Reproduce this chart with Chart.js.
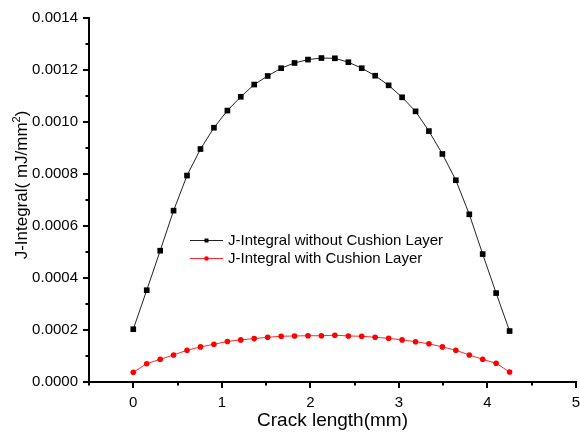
<!DOCTYPE html>
<html>
<head>
<meta charset="utf-8">
<script src="https://cdn.jsdelivr.net/npm/chart.js@4.4.1/dist/chart.umd.min.js"></script>
<style>
  html, body { margin: 0; padding: 0; background: #fff; }
  #wrap { width: 580px; height: 435px; }
</style>
</head>
<body>
<div id="wrap"><canvas id="c" width="580" height="435"></canvas></div>
<script>
// Crack length along the interface (mm)
const crackLength = [0, 0.152, 0.304, 0.455, 0.607, 0.759, 0.911, 1.063, 1.214, 1.366,
  1.518, 1.670, 1.821, 1.973, 2.125, 2.277, 2.429, 2.580, 2.732, 2.884,
  3.036, 3.188, 3.339, 3.491, 3.643, 3.795, 3.946, 4.098, 4.250];

// J-Integral (mJ/mm^2) without the cushion layer
const jWithoutCushion = [0.000203, 0.000353, 0.000505, 0.000659, 0.000794, 0.000896, 0.000978, 0.001044, 0.001097, 0.001144,
  0.001177, 0.001207, 0.001227, 0.001240, 0.001246, 0.001245, 0.001230, 0.001207, 0.001178, 0.001141,
  0.001095, 0.001041, 0.000965, 0.000877, 0.000776, 0.000645, 0.000492, 0.000342, 0.000196];

// J-Integral (mJ/mm^2) with the cushion layer
const jWithCushion = [0.0000373, 0.0000704, 0.0000873, 0.000104, 0.000122, 0.000135, 0.000145, 0.000156, 0.000162, 0.000167,
  0.000172, 0.000176, 0.000177, 0.000178, 0.000178, 0.000180, 0.000177, 0.000176, 0.000172, 0.000168,
  0.000162, 0.000155, 0.000147, 0.000135, 0.000122, 0.000104, 0.0000873, 0.0000719, 0.0000385];

// Labelled tick positions
const xTickValues = [0, 1, 2, 3, 4, 5];
const yTickValues = [0, 0.0002, 0.0004, 0.0006, 0.0008, 0.0010, 0.0012, 0.0014];

const seriesNames = ['J-Integral without Cushion Layer', 'J-Integral with Cushion Layer'];
const xTitle = 'Crack length(mm)';
const yTitleParts = ['J-Integral( mJ/mm', '2', ')'];

const FONT = '"Liberation Sans", Arial, sans-serif';

const toPoints = (ys) => ys.map((y, i) => ({ x: crackLength[i], y }));

// Short minor ticks halfway between the labelled ones
const minorTicks = {
  id: 'minorTicks',
  afterDraw(chart) {
    const { ctx, scales: { x, y } } = chart;
    ctx.save();
    ctx.strokeStyle = '#000';
    ctx.lineWidth = 2;
    ctx.beginPath();
    for (let v = -0.5; v <= 5; v += 1) {
      const px = Math.round(x.getPixelForValue(v));
      ctx.moveTo(px, x.top);
      ctx.lineTo(px, x.top + 3.5);
    }
    for (let k = 1; k < 14; k += 2) {
      const py = Math.round(y.getPixelForValue(k * 0.0001));
      ctx.moveTo(y.right, py);
      ctx.lineTo(y.right - 3.5, py);
    }
    ctx.stroke();
    ctx.restore();
  }
};

// Vertical y-axis title with a raised superscript
const yAxisTitle = {
  id: 'yAxisTitle',
  afterDraw(chart) {
    const { ctx, chartArea } = chart;
    const big = '17px ' + FONT, small = '11px ' + FONT;
    ctx.save();
    ctx.font = big;
    const w0 = ctx.measureText(yTitleParts[0]).width;
    const w2 = ctx.measureText(yTitleParts[2]).width;
    ctx.font = small;
    const w1 = ctx.measureText(yTitleParts[1]).width;
    const total = w0 + w1 + w2;
    const cy = (chartArea.top + chartArea.bottom) / 2 - 15;
    ctx.translate(27, cy);
    ctx.rotate(-Math.PI / 2);
    ctx.fillStyle = '#000';
    ctx.textBaseline = 'alphabetic';
    ctx.textAlign = 'left';
    let sx = -total / 2;
    ctx.font = big;
    ctx.fillText(yTitleParts[0], sx, 0);
    sx += w0;
    ctx.font = small;
    ctx.fillText(yTitleParts[1], sx, -7);
    sx += w1;
    ctx.font = big;
    ctx.fillText(yTitleParts[2], sx, 0);
    ctx.restore();
  }
};

// Legend placed inside the plot area
const insetLegend = {
  id: 'insetLegend',
  afterDatasetsDraw(chart) {
    const { ctx } = chart;
    const x0 = 190, x1 = 223, textX = 228;
    const rows = [240, 258];
    ctx.save();
    ctx.font = '15px ' + FONT;
    ctx.textBaseline = 'middle';
    ctx.textAlign = 'left';
    chart.data.datasets.forEach((ds, i) => {
      const yy = rows[i];
      ctx.strokeStyle = ds.borderColor;
      ctx.lineWidth = 1;
      ctx.beginPath();
      ctx.moveTo(x0, yy + 0.5);
      ctx.lineTo(x1, yy + 0.5);
      ctx.stroke();
      ctx.fillStyle = ds.pointBackgroundColor;
      ctx.strokeStyle = ds.pointBackgroundColor;
      Chart.helpers.drawPoint(ctx, { pointStyle: ds.pointStyle, radius: ds.pointStyle === 'rect' ? 2.8 : 2.3, borderWidth: 0 }, (x0 + x1) / 2, yy + 0.5);
      ctx.fillStyle = '#000';
      ctx.fillText(ds.label, textX, yy + 1);
    });
    ctx.restore();
  }
};

new Chart(document.getElementById('c'), {
  type: 'line',
  data: {
    datasets: [
      {
        label: seriesNames[0],
        data: toPoints(jWithoutCushion),
        borderColor: '#222',
        borderWidth: 1,
        pointStyle: 'rect',
        pointRadius: 4,
        pointBackgroundColor: '#000',
        pointBorderWidth: 0,
        tension: 0
      },
      {
        label: seriesNames[1],
        data: toPoints(jWithCushion),
        borderColor: '#ff2a2a',
        borderWidth: 1,
        pointStyle: 'circle',
        pointRadius: 2.8,
        pointBackgroundColor: '#ff0000',
        pointBorderWidth: 0,
        tension: 0
      }
    ]
  },
  options: {
    responsive: false,
    devicePixelRatio: 1,
    animation: false,
    layout: { padding: { top: 18, right: 3, left: 0, bottom: 0 } },
    plugins: { legend: { display: false }, tooltip: { enabled: false } },
    scales: {
      x: {
        type: 'linear',
        min: -0.5,
        max: 5,
        afterBuildTicks(scale) { scale.ticks = xTickValues.map(v => ({ value: v })); },
        afterFit(scale) { scale.height = 53; scale.paddingLeft = 0; scale.paddingRight = 0; },
        ticks: { color: '#000', font: { family: FONT, size: 15 }, padding: 6, maxRotation: 0,
          callback: (v) => String(v) },
        grid: { drawOnChartArea: false, tickLength: 6, lineWidth: 2, tickColor: '#000' },
        border: { color: '#000', width: 2 },
        title: { display: true, text: xTitle, color: '#000', font: { family: FONT, size: 19 }, padding: { top: 0, bottom: 3 } }
      },
      y: {
        type: 'linear',
        min: 0,
        max: 0.0014,
        afterBuildTicks(scale) { scale.ticks = yTickValues.map(v => ({ value: v })); },
        afterFit(scale) { scale.width = 89; scale.paddingTop = 0; scale.paddingBottom = 0; },
        ticks: { color: '#000', font: { family: FONT, size: 15 }, padding: 5,
          callback: (v) => v.toFixed(4) },
        grid: { drawOnChartArea: false, tickLength: 6, lineWidth: 2, tickColor: '#000' },
        border: { color: '#000', width: 2 }
      }
    }
  },
  plugins: [minorTicks, yAxisTitle, insetLegend]
});
</script>
</body>
</html>
